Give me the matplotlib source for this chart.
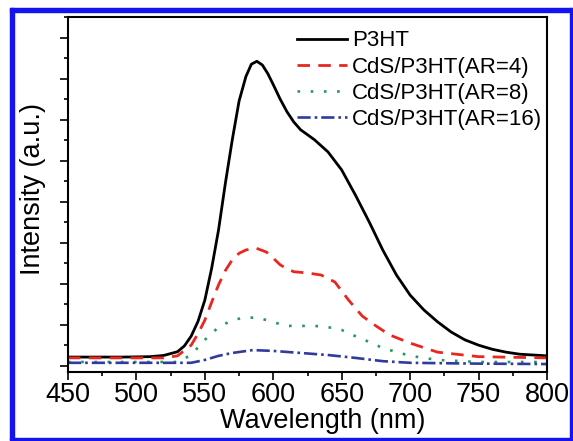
import matplotlib.pyplot as plt
from matplotlib.patches import Rectangle
from matplotlib.ticker import MultipleLocator, NullFormatter

plt.rcParams["font.family"] = ["Liberation Sans", "DejaVu Sans"]

# PL spectra, wavelength in nm, intensity in arbitrary units
wl_p3ht = [450, 470, 490, 510, 520, 530, 535, 540, 545, 550, 555, 560, 565,
           570, 575, 580, 584, 588, 592, 596, 600, 605, 610, 615, 620, 630,
           640, 650, 660, 670, 680, 690, 700, 710, 720, 730, 740, 750, 760,
           770, 780, 790, 800]
int_p3ht = [0.21, 0.21, 0.21, 0.22, 0.25, 0.34, 0.48, 0.72, 1.08, 1.60, 2.38,
            3.31, 4.45, 5.50, 6.45, 7.05, 7.35, 7.42, 7.33, 7.12, 6.85, 6.50,
            6.19, 5.94, 5.75, 5.51, 5.21, 4.77, 4.16, 3.51, 2.82, 2.21, 1.72,
            1.36, 1.07, 0.82, 0.63, 0.50, 0.40, 0.33, 0.28, 0.26, 0.24]

wl_ar4 = [450, 480, 510, 520, 530, 540, 545, 550, 555, 560, 565, 570, 575,
          580, 587, 595, 600, 605, 610, 615, 625, 635, 645, 655, 665, 675,
          685, 700, 720, 750, 800]
int_ar4 = [0.19, 0.19, 0.19, 0.19, 0.24, 0.50, 0.78, 1.11, 1.55, 1.97, 2.32,
           2.58, 2.74, 2.82, 2.87, 2.77, 2.62, 2.46, 2.36, 2.29, 2.26, 2.21,
           2.04, 1.60, 1.21, 0.97, 0.75, 0.55, 0.33, 0.22, 0.19]

wl_ar8 = [450, 490, 530, 540, 550, 560, 570, 580, 590, 600, 610, 620, 630,
          640, 650, 660, 670, 680, 700, 720, 750, 800]
int_ar8 = [0.09, 0.09, 0.09, 0.26, 0.63, 0.94, 1.11, 1.18, 1.16, 1.06, 0.97,
           0.97, 0.97, 0.94, 0.87, 0.72, 0.58, 0.43, 0.24, 0.14, 0.09, 0.09]

wl_ar16 = [450, 500, 540, 550, 560, 570, 585, 600, 620, 640, 660, 680, 700,
           750, 800]
int_ar16 = [0.07, 0.07, 0.07, 0.14, 0.24, 0.31, 0.38, 0.36, 0.31, 0.26, 0.19,
            0.11, 0.07, 0.05, 0.04]

labels = ["P3HT", "CdS/P3HT(AR=4)", "CdS/P3HT(AR=8)", "CdS/P3HT(AR=16)"]

W, H = 573, 441
fig = plt.figure(figsize=(W / 100, H / 100), dpi=100)
ax = fig.add_axes([68 / W, 1 - 372 / H, (547 - 68) / W, (372 - 17) / H])

ax.plot(wl_p3ht, int_p3ht, color="black", lw=2.0, label=labels[0])
ax.plot(wl_ar4, int_ar4, color="#e8271f", lw=2.0, ls=(0, (4.5, 3)),
        label=labels[1])
ax.plot(wl_ar8, int_ar8, color="#1f9a62", lw=1.9, ls=(0, (1, 4)),
        label=labels[2])
ax.plot(wl_ar16, int_ar16, color="#2f3c9e", lw=1.9, ls=(0, (5, 1.5, 1, 1.5)),
        label=labels[3])

ax.set_xlim(450, 800)
ax.set_ylim(-0.154, 8.5)
ax.xaxis.set_major_locator(MultipleLocator(50))
ax.xaxis.set_minor_locator(MultipleLocator(25))
ax.yaxis.set_major_locator(MultipleLocator(1))
ax.yaxis.set_minor_locator(MultipleLocator(0.5))
ax.yaxis.set_major_formatter(NullFormatter())

for s in ax.spines.values():
    s.set_linewidth(1.5)
ax.tick_params(which="major", direction="out", length=6, width=1.2,
               labelsize=19.5, pad=1.5)
ax.tick_params(which="minor", direction="out", length=3, width=1.2)

ax.set_xlabel("Wavelength (nm)", fontsize=19.5)
ax.xaxis.set_label_coords(0.532, -0.1)
ax.set_ylabel("Intensity (a.u.)", fontsize=19.5)
ax.yaxis.set_label_coords(-0.046, 0.515)

ax.legend(loc="upper left", bbox_to_anchor=(0.478, 0.962), frameon=False,
          fontsize=16, handlelength=2.25, handletextpad=0.22,
          labelspacing=0.23, borderpad=0, borderaxespad=0)

# blue border round the figure
blue = "#1414f0"
fig.patches.extend([
    Rectangle((10 / W, 1 / H), 4 / W, 432 / H, transform=fig.transFigure,
              color=blue),
    Rectangle((10 / W, 1 - 12 / H), 562 / W, 4 / H, transform=fig.transFigure,
              color=blue),
    Rectangle((570 / W, 1 / H), 2 / W, 432 / H, transform=fig.transFigure,
              color=blue),
    Rectangle((10 / W, 1 / H), 562 / W, 2 / H, transform=fig.transFigure,
              color=blue),
])

fig.savefig("out.png", dpi=100)
